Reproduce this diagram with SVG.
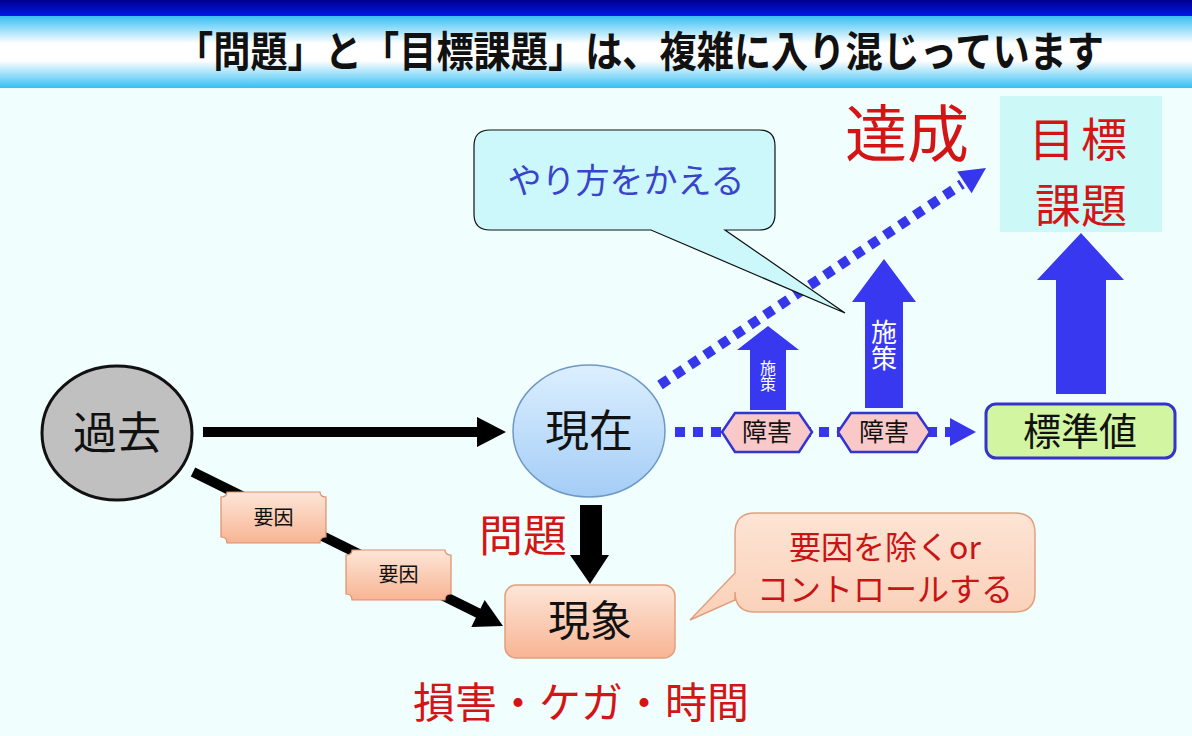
<svg xmlns="http://www.w3.org/2000/svg" width="1192" height="736" viewBox="0 0 1192 736">
<defs>
<linearGradient id="gTop" x1="0" y1="0" x2="0" y2="1"><stop offset="0" stop-color="#000090"/><stop offset="1" stop-color="#0018e8"/></linearGradient>
<linearGradient id="gBand" x1="0" y1="0" x2="0" y2="1"><stop offset="0" stop-color="#38bff4"/><stop offset="0.38" stop-color="#ffffff"/><stop offset="0.62" stop-color="#ffffff"/><stop offset="1" stop-color="#38bff4"/></linearGradient>
<linearGradient id="gNow" x1="0" y1="0" x2="0" y2="1"><stop offset="0" stop-color="#dcefff"/><stop offset="1" stop-color="#a4cdf6"/></linearGradient>
<linearGradient id="gPeach" x1="0" y1="0" x2="0" y2="1"><stop offset="0" stop-color="#fde6d8"/><stop offset="1" stop-color="#f8b493"/></linearGradient>
<linearGradient id="gPeach2" x1="0" y1="0" x2="0" y2="1"><stop offset="0" stop-color="#fde4d4"/><stop offset="1" stop-color="#fad0b8"/></linearGradient>
</defs>
<style>
text{font-family:"Noto Sans CJK JP","Noto Sans",sans-serif;text-anchor:middle}
.blk{fill:#111}
.red{fill:#d41515}
.dot{fill:none;stroke:#3636ea;stroke-width:10;stroke-dasharray:10 8}
.blue{fill:#3838f0}
.hex{fill:#f9c8c8;stroke:#3434d0;stroke-width:2.5}
.tag{fill:url(#gPeach);stroke:#d9906a;stroke-width:1.2}
.vert{fill:#ffffff;writing-mode:tb;glyph-orientation-vertical:0}
</style>
<rect width="1192" height="736" fill="#f0fefe"/>
<rect x="0" y="0" width="1192" height="16" fill="url(#gTop)"/>
<rect x="0" y="16" width="1192" height="72" fill="url(#gBand)"/>
<text transform="translate(640,67) scale(0.886,1)" x="0" y="0" font-size="42" font-weight="700" class="blk">「問題」と「目標課題」は、複雑に入り混じっています</text>

<g id="connectors">
<line x1="203" y1="432" x2="480" y2="432" stroke="#000" stroke-width="10"/>
<polygon points="477,417 506,432 477,447" fill="#000"/>
<line x1="193" y1="472" x2="480" y2="614" stroke="#000" stroke-width="10"/>
<polygon points="484.7,600.1 471.3,626.9 503,626" fill="#000"/>
<rect x="580" y="505" width="22" height="52" fill="#000"/>
<polygon points="570,555 609,555 590,584" fill="#000"/>
<line x1="660" y1="385" x2="962" y2="184" class="dot"/>
<polygon points="971.6,193.2 957.2,171.6 986,168" fill="#3636ea"/>
<line x1="675" y1="432" x2="950" y2="432" class="dot"/>
<polygon points="950,418 976,432 950,446" fill="#3636ea"/>
</g>

<g id="kako">
<ellipse cx="117" cy="433" rx="75" ry="67" fill="#c0c0c0" stroke="#111" stroke-width="3"/>
<text x="117" y="449" font-size="44" class="blk">過去</text>
</g>

<g id="genzai">
<ellipse cx="589" cy="431" rx="76" ry="66" fill="url(#gNow)" stroke="#6f98c4" stroke-width="1.5"/>
<text x="589" y="447" font-size="44" class="blk">現在</text>
</g>

<g id="youin1">
<path class="tag" d="M227,492 H320 Q320,497 326,497 V537 Q320,537 320,543 H227 Q227,537 221,537 V497 Q227,497 227,492 Z"/>
<text x="273.5" y="525" font-size="20" class="blk">要因</text>
</g>
<g id="youin2">
<path class="tag" d="M352,550 H445 Q445,555 451,555 V594 Q445,594 445,600 H352 Q352,594 346,594 V555 Q352,555 352,550 Z"/>
<text x="398.5" y="582" font-size="20" class="blk">要因</text>
</g>

<g id="mondai">
<text x="523" y="552" font-size="44" class="red">問題</text>
</g>

<g id="gensho">
<rect x="505" y="585" width="170" height="73" rx="11" fill="url(#gPeach)" stroke="#e0a080" stroke-width="1.5"/>
<text x="590" y="636" font-size="42" class="blk">現象</text>
</g>

<g id="songai">
<text x="581" y="718" font-size="42" class="red">損害・ケガ・時間</text>
</g>

<g id="callout-youin">
<path d="M755,513 H1015 Q1035,513 1035,533 V592 Q1035,612 1015,612 H755 Q735,612 735,592 V600 L690,620 L735,573 V533 Q735,513 755,513 Z" fill="url(#gPeach2)" stroke="#e0a080" stroke-width="1.5"/>
<text font-size="32" fill="#c81414"><tspan x="885" y="559">要因を除くor</tspan><tspan x="885" y="601">コントロールする</tspan></text>
</g>

<g id="shisaku1">
<polygon class="blue" points="750,410 750,350 737,350 768,326 799,350 786,350 786,410"/>
<text x="768" y="376" font-size="16" class="vert">施策</text>
</g>
<g id="shisaku2">
<polygon class="blue" points="865,408 865,302 852,302 884,259 916,302 903,302 903,408"/>
<text x="884" y="345" font-size="26" class="vert">施策</text>
</g>

<g id="shougai1">
<polygon class="hex" points="722,432 735,413 799,413 812,432 799,452 735,452"/>
<text x="767" y="441" font-size="25" class="blk">障害</text>
</g>
<g id="shougai2">
<polygon class="hex" points="838,432 851,413 917,413 930,432 917,452 851,452"/>
<text x="884" y="441" font-size="25" class="blk">障害</text>
</g>

<g id="hyoujunchi">
<rect x="986" y="404" width="189" height="54" rx="10" fill="#d2f5a2" stroke="#3434c8" stroke-width="3"/>
<text x="1080" y="445" font-size="38" class="blk">標準値</text>
</g>

<g id="big-arrow">
<polygon class="blue" points="1056,394 1056,280 1037,280 1081,233 1124,280 1106,280 1106,394"/>
</g>

<g id="mokuhyou">
<rect x="1000" y="96" width="162" height="136" fill="#ccf8f8"/>
<text font-size="46" class="red"><tspan x="1081" y="156" letter-spacing="6">目標</tspan><tspan x="1081" y="222">課題</tspan></text>
</g>

<g id="tassei">
<text x="907" y="157" font-size="62" class="red">達成</text>
</g>

<g id="callout-yarikata">
<path d="M490,130 H759 Q775,130 775,146 V214 Q775,230 759,230 H725 L845,313 L651,230 H490 Q474,230 474,214 V146 Q474,130 490,130 Z" fill="#ccf8fc" stroke="#111" stroke-width="1.2"/>
<text x="626" y="193" font-size="34" fill="#3a44c8">やり方をかえる</text>
</g>
</svg>
